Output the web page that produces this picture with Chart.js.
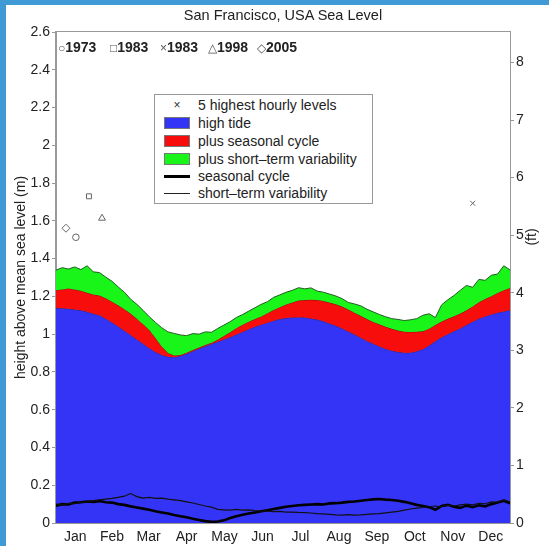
<!DOCTYPE html>
<html>
<head>
<meta charset="utf-8">
<script src="https://cdn.jsdelivr.net/npm/chart.js@4/dist/chart.umd.min.js"></script>
<style>
  body { margin: 0; background: #fff; font-family: "Liberation Sans", Arial, sans-serif; color: #222; }
  #wrap { position: relative; width: 549px; height: 546px; overflow: hidden; }
  #chart { position: absolute; left: 0; top: 0; }
  .frameTop { position: absolute; left: 0; top: 0; width: 549px; height: 5px; background: #3f9ad6; }
  .frameLeft { position: absolute; left: 0; top: 0; width: 6px; height: 546px; background: #3f9ad6; }
  #title { position: absolute; left: 0; width: 566px; top: 7px; text-align: center; font-size: 14.5px; }
  .yr { position: absolute; top: 39px; font-size: 14px; font-weight: bold; white-space: nowrap; }
  .yr span { font-weight: normal; color: #555; font-size: 12px; }
  #ft { position: absolute; left: 516px; top: 229px; font-size: 14px; transform: rotate(-90deg); width: 30px; text-align: center; }
  #legend { position: absolute; left: 154px; top: 94px; width: 219px; height: 110px; border: 1px solid #999; background: #fff; box-sizing: border-box; font-size: 14px; }
  .row { position: absolute; left: 0; height: 18px; line-height: 18px; }
  .row .sym { position: absolute; left: 9px; width: 26px; }
  .row .txt { position: absolute; left: 43px; white-space: nowrap; }
</style>
</head>
<body>
<div id="wrap">
  <canvas id="chart" width="549" height="546"></canvas>
  <div class="frameTop"></div>
  <div class="frameLeft"></div>
  <div id="title">San Francisco, USA Sea Level</div>
  <div class="yr" style="left:58px"><span>○</span>1973</div>
  <div class="yr" style="left:110px"><span>□</span>1983</div>
  <div class="yr" style="left:160px"><span>×</span>1983</div>
  <div class="yr" style="left:208px"><span>△</span>1998</div>
  <div class="yr" style="left:257px"><span>◇</span>2005</div>
  <div id="ft">(ft)</div>
  <div id="legend">
    <div class="row" style="top:1px"><span class="sym" style="text-align:center;color:#333;font-size:12px">×</span><span class="txt">5 highest hourly levels</span></div>
    <div class="row" style="top:19px"><span class="sym" style="top:3px;height:12px;background:#3434f6;border:1px solid #777;box-sizing:border-box"></span><span class="txt">high tide</span></div>
    <div class="row" style="top:37px"><span class="sym" style="top:3px;height:12px;background:#f80d0d;border:1px solid #777;box-sizing:border-box"></span><span class="txt">plus seasonal cycle</span></div>
    <div class="row" style="top:55px"><span class="sym" style="top:3px;height:12px;background:#19f519;border:1px solid #777;box-sizing:border-box"></span><span class="txt">plus short&#8211;term variability</span></div>
    <div class="row" style="top:72px"><span class="sym" style="top:8px;height:3px;background:#000"></span><span class="txt">seasonal cycle</span></div>
    <div class="row" style="top:89px"><span class="sym" style="top:9px;height:1px;background:#222"></span><span class="txt">short&#8211;term variability</span></div>
  </div>
</div>
<script>
// day of year for every sample
const days = [0, 5, 10, 15, 20, 25, 30, 35, 40, 45, 50, 55, 60, 65, 70, 75, 80, 85, 90, 95,
  100, 105, 110, 115, 120, 125, 130, 135, 140, 145, 150, 155, 160, 165, 170, 175, 180, 185, 190, 195,
  200, 205, 210, 215, 220, 225, 230, 235, 240, 245, 250, 255, 260, 265, 270, 275, 280, 285, 290, 295,
  300, 305, 310, 315, 320, 325, 330, 335, 340, 345, 350, 355, 360, 365];

const months = ['Jan', 'Feb', 'Mar', 'Apr', 'May', 'Jun', 'Jul', 'Aug', 'Sep', 'Oct', 'Nov', 'Dec'];
const monthCenters = [15.5, 45, 74.5, 105, 135.5, 166, 196.5, 227.5, 258, 288.5, 319, 349.5];
const ftTicks = [0, 1, 2, 3, 4, 5, 6, 7, 8];

// top of each coloured band (m)
const highTide = [1.138, 1.137, 1.134, 1.130, 1.126, 1.118, 1.108, 1.100, 1.082, 1.062,
  1.041, 1.018, 0.995, 0.972, 0.949, 0.926, 0.905, 0.890, 0.880, 0.878,
  0.884, 0.896, 0.910, 0.923, 0.936, 0.948, 0.960, 0.972, 0.984, 0.998,
  1.012, 1.026, 1.039, 1.050, 1.061, 1.071, 1.080, 1.085, 1.088, 1.090,
  1.088, 1.083, 1.077, 1.068, 1.056, 1.044, 1.030, 1.014, 0.998, 0.981,
  0.964, 0.949, 0.935, 0.922, 0.912, 0.905, 0.901, 0.902, 0.909, 0.920,
  0.940, 0.962, 0.983, 1.000, 1.015, 1.030, 1.048, 1.066, 1.082, 1.094,
  1.104, 1.113, 1.120, 1.127];

const plusSeasonal = [1.233, 1.237, 1.242, 1.237, 1.230, 1.219, 1.210, 1.205, 1.190, 1.172,
  1.153, 1.132, 1.109, 1.082, 1.053, 1.022, 0.980, 0.935, 0.900, 0.887,
  0.890, 0.902, 0.916, 0.929, 0.942, 0.955, 0.970, 0.990, 1.010, 1.031,
  1.050, 1.066, 1.080, 1.094, 1.111, 1.128, 1.143, 1.157, 1.168, 1.178,
  1.181, 1.182, 1.181, 1.176, 1.167, 1.158, 1.146, 1.130, 1.114, 1.097,
  1.080, 1.065, 1.052, 1.039, 1.028, 1.019, 1.013, 1.012, 1.013, 1.015,
  1.029, 1.048, 1.067, 1.081, 1.095, 1.109, 1.126, 1.147, 1.169, 1.186,
  1.201, 1.218, 1.233, 1.245];

const plusShortTerm = [1.339, 1.352, 1.345, 1.356, 1.342, 1.362, 1.330, 1.326, 1.302, 1.280,
  1.250, 1.222, 1.185, 1.158, 1.126, 1.092, 1.062, 1.034, 1.012, 1.004,
  0.996, 0.992, 1.003, 1.000, 1.012, 1.010, 1.030, 1.048, 1.066, 1.088,
  1.104, 1.122, 1.140, 1.158, 1.172, 1.195, 1.208, 1.222, 1.232, 1.246,
  1.240, 1.245, 1.228, 1.222, 1.212, 1.202, 1.188, 1.168, 1.160, 1.150,
  1.132, 1.118, 1.104, 1.092, 1.082, 1.078, 1.072, 1.076, 1.082, 1.100,
  1.108, 1.088, 1.155, 1.182, 1.205, 1.232, 1.258, 1.248, 1.290, 1.285,
  1.312, 1.318, 1.362, 1.340];

// the two components on their own (m)
const seasonalCycle = [0.092, 0.100, 0.098, 0.108, 0.110, 0.114, 0.112, 0.116, 0.110, 0.108,
  0.100, 0.096, 0.088, 0.082, 0.076, 0.070, 0.062, 0.056, 0.050, 0.042,
  0.036, 0.030, 0.022, 0.016, 0.010, 0.006, 0.008, 0.014, 0.026, 0.036,
  0.044, 0.050, 0.056, 0.062, 0.068, 0.074, 0.080, 0.086, 0.090, 0.094,
  0.096, 0.098, 0.100, 0.098, 0.104, 0.105, 0.108, 0.112, 0.114, 0.118,
  0.122, 0.125, 0.127, 0.124, 0.122, 0.118, 0.112, 0.104, 0.096, 0.090,
  0.084, 0.070, 0.090, 0.096, 0.086, 0.080, 0.092, 0.084, 0.094, 0.088,
  0.100, 0.108, 0.118, 0.105];

const shortTermVar = [0.100, 0.096, 0.104, 0.102, 0.110, 0.112, 0.118, 0.122, 0.126, 0.130,
  0.136, 0.142, 0.156, 0.140, 0.132, 0.136, 0.130, 0.132, 0.126, 0.122,
  0.118, 0.112, 0.106, 0.098, 0.090, 0.084, 0.072, 0.070, 0.068, 0.072,
  0.068, 0.070, 0.066, 0.064, 0.063, 0.060, 0.062, 0.058, 0.058, 0.056,
  0.055, 0.053, 0.050, 0.048, 0.046, 0.043, 0.042, 0.044, 0.042, 0.043,
  0.046, 0.048, 0.050, 0.054, 0.058, 0.062, 0.068, 0.074, 0.079, 0.082,
  0.086, 0.090, 0.086, 0.094, 0.090, 0.096, 0.100, 0.096, 0.104, 0.102,
  0.112, 0.110, 0.122, 0.112];

// 5 highest hourly levels
const extremes = [
  { year: '1973', style: 'circle', day: 16, level: 1.513 },
  { year: '1983', style: 'rect', day: 26.5, level: 1.73 },
  { year: '1983', style: 'crossRot', day: 335, level: 1.693 },
  { year: '1998', style: 'triangle', day: 37, level: 1.614 },
  { year: '2005', style: 'rectRot', day: 8, level: 1.561 }
];

const M_PER_FT = 0.3048;
const Y_MAX = 2.6;

const pts = arr => days.map((d, i) => ({ x: d, y: arr[i] }));
const font = { family: '"Liberation Sans", Arial, sans-serif', size: 14 };
const markerSize = { circle: 3.3, rect: 3.5, crossRot: 3.5, triangle: 4, rectRot: 4 };

const datasets = [
  { label: 'high tide', data: pts(highTide), fill: 'origin', backgroundColor: '#3434f6', borderColor: '#26268a', borderWidth: 1, pointRadius: 0, order: 10 },
  { label: 'plus seasonal cycle', data: pts(plusSeasonal), fill: '-1', backgroundColor: '#f80d0d', borderColor: '#7a0a0a', borderWidth: 1, pointRadius: 0, order: 9 },
  { label: 'plus short-term variability', data: pts(plusShortTerm), fill: '-1', backgroundColor: '#19f519', borderColor: '#245a24', borderWidth: 1, pointRadius: 0, order: 8 },
  { label: 'seasonal cycle', data: pts(seasonalCycle), fill: false, borderColor: '#000', borderWidth: 2.6, pointRadius: 0, order: 2 },
  { label: 'short-term variability', data: pts(shortTermVar), fill: false, borderColor: '#111', borderWidth: 1.2, pointRadius: 0, order: 1 }
];
extremes.forEach(e => {
  datasets.push({
    label: e.year, data: [{ x: e.day, y: e.level }], showLine: false, fill: false,
    pointStyle: e.style, pointRadius: markerSize[e.style], pointBorderWidth: 1,
    pointBorderColor: '#666', pointBackgroundColor: 'rgba(0,0,0,0)', order: 0
  });
});

const boxPlugin = {
  id: 'box',
  afterDraw(chart) {
    const { ctx, chartArea: a } = chart;
    ctx.save();
    ctx.strokeStyle = '#999';
    ctx.lineWidth = 1;
    ctx.strokeRect(a.left - 0.5, a.top - 0.5, a.right - a.left + 1, a.bottom - a.top + 1);
    ctx.restore();
  }
};

new Chart(document.getElementById('chart').getContext('2d'), {
  type: 'line',
  data: { datasets },
  options: {
    responsive: false,
    animation: false,
    layout: { padding: { left: 0, right: 0, top: 32, bottom: 0 } },
    plugins: { legend: { display: false }, tooltip: { enabled: false } },
    scales: {
      x: {
        type: 'linear', min: 0, max: 365,
        afterBuildTicks: s => { s.ticks = monthCenters.map(v => ({ value: v })); },
        afterFit: s => { s.height = 23; },
        ticks: { callback: (v, i) => months[i], color: '#222', font, padding: 6, maxRotation: 0, autoSkip: false },
        grid: { display: false, drawTicks: false },
        border: { color: '#999' }
      },
      y: {
        position: 'left', min: 0, max: Y_MAX,
        afterFit: s => { s.width = 56; },
        ticks: { stepSize: 0.2, callback: v => String(parseFloat(v.toFixed(1))), color: '#222', font, padding: 2 },
        grid: { drawOnChartArea: false, drawTicks: true, tickLength: 4, color: '#999' },
        border: { color: '#999' },
        title: { display: true, text: 'height above mean sea level (m)', color: '#222', font, padding: { top: 13, bottom: 0 } }
      },
      y2: {
        position: 'right', min: 0, max: Y_MAX / M_PER_FT,
        afterBuildTicks: s => { s.ticks = ftTicks.map(v => ({ value: v })); },
        afterFit: s => { s.width = 39; },
        ticks: { callback: v => String(Math.round(v)), color: '#222', font, padding: 2 },
        grid: { drawOnChartArea: false, drawTicks: true, tickLength: 4, color: '#999' },
        border: { color: '#999' }
      }
    }
  },
  plugins: [boxPlugin]
});
</script>
</body>
</html>
